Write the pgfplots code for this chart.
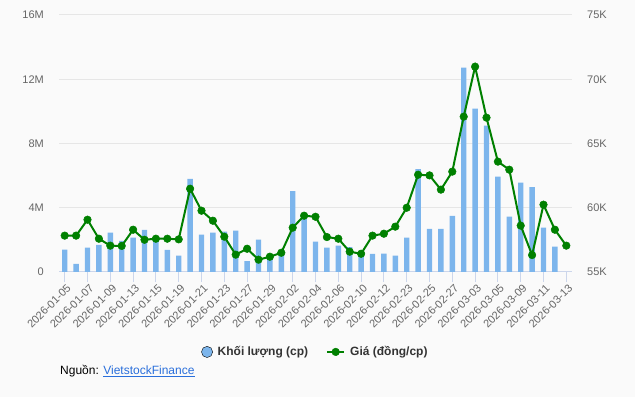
\documentclass[border=0pt]{standalone}
\usepackage{pgfplots}
\pgfplotsset{compat=1.18}
\usepackage{pgfplotstable}
\usepackage{fontspec}
\setmainfont{Liberation Sans}
\definecolor{bgc}{HTML}{FAFAFA}
\definecolor{gridc}{HTML}{E6E6E6}
\definecolor{tickc}{HTML}{CCD6EB}
\definecolor{labc}{HTML}{666666}
\definecolor{barc}{HTML}{7CB5EC}
\definecolor{linec}{HTML}{008000}
\definecolor{txtc}{HTML}{333333}
\definecolor{linkc}{HTML}{2A6FDB}

\pgfplotstableread{
x vol
0 1.39
1 0.50
2 1.51
3 1.69
4 2.45
5 1.94
6 2.14
7 2.62
8 2.05
9 1.38
10 1.02
11 5.79
12 2.32
13 2.45
14 2.51
15 2.57
16 0.68
17 2.01
18 0.95
19 1.10
20 5.04
21 3.30
22 1.89
23 1.51
24 1.64
25 1.55
26 1.00
27 1.13
28 1.14
29 1.02
30 2.14
31 6.41
32 2.68
33 2.68
34 3.49
35 12.72
36 10.17
37 9.11
38 5.93
39 3.44
40 5.56
41 5.29
42 2.77
43 1.58
}\voltable

\pgfplotstableread{
x price
0 57.83
1 57.83
2 59.07
3 57.59
4 57.05
5 57.03
6 58.29
7 57.51
8 57.59
9 57.59
10 57.54
11 61.48
12 59.77
13 58.99
14 57.75
15 56.35
16 56.81
17 55.96
18 56.19
19 56.50
20 58.45
21 59.38
22 59.30
23 57.72
24 57.59
25 56.58
26 56.42
27 57.83
28 57.98
29 58.53
30 60.00
31 62.57
32 62.52
33 61.41
34 62.81
35 67.09
36 70.98
37 67.01
38 63.59
39 62.96
40 58.61
41 56.32
42 60.24
43 58.29
44 57.05
}\pricetable

\begin{document}
\begin{tikzpicture}
\fill[bgc] (0,0) rectangle (635bp,397bp);
\useasboundingbox (0,0) rectangle (635bp,397bp);

\begin{axis}[
  at={(59bp,125bp)}, anchor=south west,
  scale only axis, width=513bp, height=257bp,
  xmin=-0.5, xmax=44.5, ymin=0, ymax=16,
  axis x line*=bottom, axis y line*=left,
  x axis line style={-, draw=tickc, line width=1bp},
  y axis line style={draw=none},
  xtick={0,2,...,44},
  xticklabels={2026-01-05,2026-01-07,2026-01-09,2026-01-13,2026-01-15,2026-01-19,2026-01-21,2026-01-23,2026-01-27,2026-01-29,2026-02-02,2026-02-04,2026-02-06,2026-02-10,2026-02-12,2026-02-23,2026-02-25,2026-02-27,2026-03-03,2026-03-05,2026-03-09,2026-03-11,2026-03-13},
  x tick label style={rotate=45, anchor=north east, inner sep=0pt, font=\fontsize{11bp}{13bp}\selectfont, text=labc, yshift=-2bp},
  tick align=outside,
  major x tick style={draw=tickc, line width=1bp},
  x tick style={draw=tickc, line width=1bp},
  major tick length=10bp,
  ytick={0,4,8,12,16},
  yticklabels={0,4M,8M,12M,16M},
  y tick style={draw=none},
  y tick label style={inner sep=0pt, font=\fontsize{11bp}{13bp}\selectfont, text=labc, xshift=-5bp},
  ymajorgrids, grid style={draw=gridc, line width=1bp},
  clip=false,
]
\addplot[ybar, bar width=5.4bp, fill=barc, draw=none] table[x=x, y=vol] {\voltable};
\end{axis}

\begin{axis}[
  at={(59bp,125bp)}, anchor=south west,
  scale only axis, width=513bp, height=257bp,
  xmin=-0.5, xmax=44.5, ymin=55, ymax=75,
  axis x line=none, axis y line*=right,
  y axis line style={draw=none},
  ytick={55,60,65,70,75},
  yticklabels={55K,60K,65K,70K,75K},
  y tick style={draw=none},
  tick align=outside, major tick length=10bp,
  y tick label style={inner sep=0pt, font=\fontsize{11bp}{13bp}\selectfont, text=labc, xshift=5bp},
  legend style={at={(0.5,-0.311)}, anchor=center, legend columns=2, draw=none, fill=none,
    font=\bfseries\fontsize{12bp}{14bp}\selectfont, text=txtc,
    /tikz/every odd column/.append style={column sep=3bp},
    /tikz/every even column/.append style={column sep=16bp}},
]
\addlegendimage{only marks, mark=*, mark size=5.6bp, mark options={draw=none, fill=barc}}
\addlegendentry{Khối lượng (cp)}
\addplot[color=linec, line width=2bp, mark=*, mark size=3.8bp, mark options={fill=linec, draw=linec, line width=0.5bp}] table[x=x, y=price] {\pricetable};
\addlegendentry{Giá (đồng/cp)}
\end{axis}

\node[anchor=west, inner sep=0pt, font=\fontsize{12bp}{14bp}\selectfont, text=black] at (60bp,26bp) {Nguồn: \textcolor{linkc}{\underline{VietstockFinance}}};
\end{tikzpicture}
\end{document}
